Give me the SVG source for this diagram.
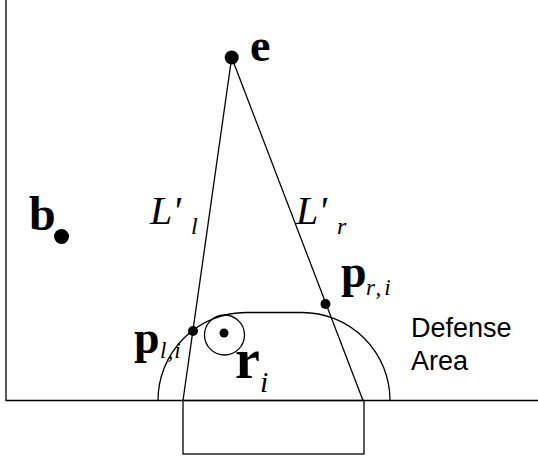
<svg xmlns="http://www.w3.org/2000/svg" width="538" height="460" viewBox="0 0 538 460">
<style>
.ln{fill:none;stroke:#000;stroke-width:1.3}
.dot{fill:#000}
.bs{font-family:"Liberation Serif","Times New Roman",serif;font-weight:bold;fill:#000}
.it{font-family:"Liberation Serif","Times New Roman",serif;font-style:italic;fill:#000}
.ss{font-family:"Liberation Sans",Arial,sans-serif;fill:#000;font-size:27px}
</style>
<rect width="538" height="460" fill="#fff"/>
<g id="field">
<path class="ln" d="M6,0 V400.5 H538"/>
<rect id="goal" class="ln" x="183" y="400.5" width="181" height="53.5"/>
<path id="defense-area" class="ln" d="M158,400.5 A88,88 0 0 1 246,312.5 L302,312.5 A88,88 0 0 1 390,400.5"/>
</g>
<g id="connectors">
<line id="Ll" class="ln" x1="231.7" y1="57.5" x2="183" y2="400.5"/>
<line id="Lr" class="ln" x1="231.7" y1="57.5" x2="363" y2="400.5"/>
</g>
<g id="node-e">
<circle class="dot" cx="231.7" cy="57.5" r="7"/>
<text class="bs" x="250" y="61" font-size="46">e</text>
</g>
<g id="node-b">
<circle class="dot" cx="61.5" cy="236.5" r="7.5"/>
<text class="bs" x="29" y="230" font-size="48">b</text>
</g>
<g id="label-Ll">
<text class="it" x="150" y="224" font-size="40">L'</text>
<text class="it" x="191" y="234" font-size="24">l</text>
</g>
<g id="label-Lr">
<text class="it" x="296" y="224" font-size="40">L'</text>
<text class="it" x="337" y="234" font-size="24">r</text>
</g>
<g id="node-pr">
<circle class="dot" cx="325.5" cy="304" r="5"/>
<text class="bs" x="341" y="287" font-size="46">p</text>
<text class="it" x="366" y="295" font-size="23" letter-spacing="3">r,i</text>
</g>
<g id="node-pl">
<circle class="dot" cx="193" cy="331" r="5"/>
<text class="bs" x="134" y="353" font-size="46">p</text>
<text class="it" x="160" y="358" font-size="23" letter-spacing="1">l,i</text>
</g>
<g id="node-ri">
<circle class="ln" cx="224.5" cy="335" r="20"/>
<circle class="dot" cx="224" cy="333" r="4.5"/>
<text class="bs" x="235" y="378" font-size="56">r</text>
<text class="it" x="260" y="392" font-size="30">i</text>
</g>
<g id="label-defense">
<text class="ss" x="411" y="337">Defense</text>
<text class="ss" x="411" y="370">Area</text>
</g>
</svg>
